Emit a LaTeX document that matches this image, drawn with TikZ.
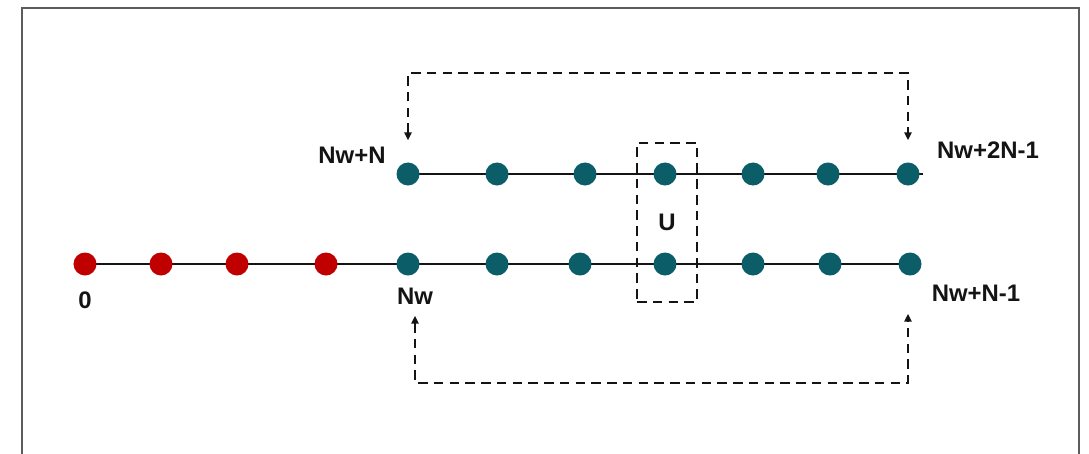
\documentclass[tikz,border=0pt]{standalone}
\usepackage{fontspec}
\setsansfont{Liberation Sans}
\usepackage{tikz}
\usetikzlibrary{arrows.meta,backgrounds}
\definecolor{ruby}{HTML}{C00000}
\definecolor{petrol}{HTML}{0B5E68}
\definecolor{framegray}{HTML}{5C5C5C}
\definecolor{ink}{HTML}{141414}
\tikzset{
  dot/.style={
    circle, fill=#1, draw=none,
    minimum size=0.575cm, inner sep=0pt
  },
  dot/.default=petrol,
  idxlabel/.style={
    font=\sffamily\bfseries\fontsize{17}{20}\selectfont,
    text=ink, inner sep=0pt
  },
  chainline/.style={
    line width=1.9pt, color=ink
  },
  wrapline/.style={
    {Triangle[length=5.5pt,width=5pt]}-{Triangle[length=5.5pt,width=5pt]},
    line width=1.9pt, color=ink, dash pattern=on 6.8pt off 4.4pt
  },
  ubox/.style={
    rectangle, draw=ink, line width=1.9pt, dash pattern=on 6.8pt off 4.4pt,
    minimum width=1.5cm, minimum height=3.975cm,
    font=\sffamily\bfseries\fontsize{17}{20}\selectfont, text=ink
  },
}

\begin{document}
\begin{tikzpicture}[x=0.025cm, y=-0.025cm]
\path[use as bounding box, clip] (0,0) rectangle (1089,453);

% outer frame
\draw[framegray, line width=1.1pt] (22,8) rectangle (1079,480);

% Lower chain: red window, then teal block
\foreach \x [count=\i from 0] in {85,161,237,326}
  \node[dot=ruby] (r\i) at (\x,264) {};
\foreach \x [count=\i from 0] in {408,497,580,665,753,830,910}
  \node[dot] (b\i) at (\x,264) {};

% Upper chain
\foreach \x [count=\i from 0] in {408,497,585,665,753,828,908}
  \node[dot] (t\i) at (\x,174) {};
\coordinate (tEnd) at (923,174);

\begin{scope}[on background layer]
  \fill[white] (0,0) rectangle (1089,453);
  \draw[chainline] (r0.center) -- (b6.center);
  \draw[chainline] (t0.center) -- (tEnd);
\end{scope}

% Index labels
\node[idxlabel] (l0) at (85,300) {0};
\node[idxlabel] (lNw) at (415,296) {Nw};
\node[idxlabel] (lNwN) at (352,155) {Nw+N};
\node[idxlabel] (lTop) at (988,150) {Nw+2N-1};
\node[idxlabel] (lBot) at (976,293) {Nw+N-1};

% U pairing box
\node[ubox] (u) at (667,222.5) {U};

% wrap-around links
\coordinate (turnT) at (660,73);
\coordinate (turnB) at (660,383);
\draw[wrapline, shorten <=0.55cm, shorten >=0.55cm]
  (t0) |- (turnT) -| (t6);
\draw[wrapline, shorten <=1.0cm, shorten >=0.95cm]
  ([xshift=1.75mm]b0.south) |- (turnB) -| ([xshift=-0.5mm]b6.south);

\end{tikzpicture}
\end{document}
